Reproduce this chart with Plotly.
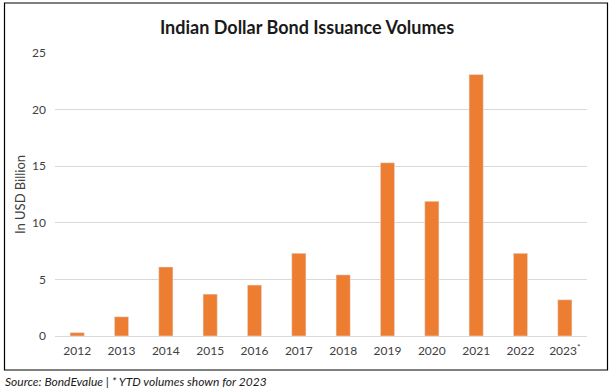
import plotly.graph_objects as go

years = ["2012", "2013", "2014", "2015", "2016", "2017", "2018", "2019", "2020", "2021", "2022", "2023"]
tick_labels = ["2012", "2013", "2014", "2015", "2016", "2017", "2018", "2019", "2020", "2021", "2022", "2023<sup>*</sup>"]
volumes = [0.3, 1.7, 6.1, 3.7, 4.5, 7.3, 5.4, 15.3, 11.9, 23.1, 7.3, 3.2]

W, H = 614, 391
L, R, T, B = 55, 27, 53, 55
pw, ph = W - L - R, H - T - B

def px_x(x):
    return (x - L) / pw

def px_y(y):
    return (H - B - y) / ph

fig = go.Figure(go.Bar(x=years, y=volumes, marker_color="#ED7D31", width=0.32))

fig.update_layout(
    width=W, height=H,
    margin=dict(l=L, r=R, t=T, b=B),
    paper_bgcolor="white", plot_bgcolor="white",
    font=dict(family="Lato, Calibri, sans-serif", size=12, color="#595959"),
    title=dict(text="<b>Indian Dollar Bond Issuance Volumes</b>", x=0.5, xanchor="center",
               y=1 - 28 / H, yanchor="middle", font=dict(size=18, color="#1a1a1a")),
    xaxis=dict(tickmode="array", tickvals=years, ticktext=tick_labels, showgrid=False,
               showline=True, linecolor="#d9d9d9", linewidth=1, ticks="", ticklabelstandoff=4,
               tickfont=dict(size=12, color="#404040")),
    yaxis=dict(range=[0, 25], dtick=5, showgrid=True, gridcolor="#d9d9d9", gridwidth=1,
               zeroline=False, ticks="", ticklabelstandoff=8, tickfont=dict(size=12, color="#404040"),
               title=dict(text="In USD Billion", font=dict(size=13, color="#404040"), standoff=3)),
    showlegend=False,
    shapes=[dict(type="rect", xref="paper", yref="paper",
                 x0=px_x(4.5), x1=px_x(607.5), y0=px_y(370), y1=px_y(3),
                 line=dict(color="black", width=1.2), fillcolor="rgba(0,0,0,0)", layer="below")],
    annotations=[dict(text="<i>Source: BondEvalue | * YTD volumes shown for 2023</i>", xref="paper", yref="paper",
                      x=px_x(3), y=px_y(381), xanchor="left", yanchor="middle", showarrow=False,
                      font=dict(size=12, color="#1a1a1a"))],
)

fig.write_html("out.html", config={"displayModeBar": False},
               post_script="document.body.style.margin='0px';document.body.style.overflow='hidden';")
